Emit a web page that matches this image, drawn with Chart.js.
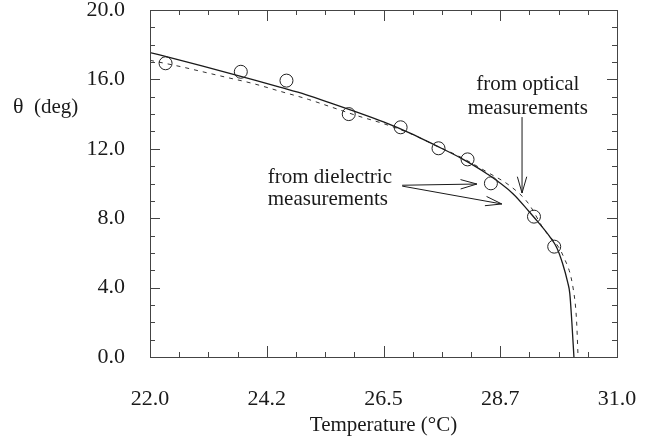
<!DOCTYPE html>
<html>
<head>
<meta charset="utf-8">
<script src="https://cdn.jsdelivr.net/npm/chart.js@4/dist/chart.umd.min.js"></script>
<style>
  html, body { margin: 0; padding: 0; background: #fff; }
  #wrap { width: 652px; height: 444px; }
</style>
</head>
<body>
<div id="wrap"><canvas id="chart"></canvas></div>
<script>
// axis ticks
const xTicks = [22, 24.25, 26.5, 28.75, 31];
const xTickLabels = ['22.0', '24.2', '26.5', '28.7', '31.0'];
const yTicks = [0, 4, 8, 12, 16, 20];
const yTickLabels = ['0.0', '4.0', '8.0', '12.0', '16.0', '20.0'];

// measured points (open circles)
const circleT = [22.30, 23.75, 24.63, 25.83, 26.83, 27.56, 28.12, 28.57, 29.40, 29.79];
const circleTheta = [16.93, 16.44, 15.93, 14.00, 13.24, 12.03, 11.39, 10.01, 8.09, 6.36];

// solid curve (dielectric)
const solidT = [22.0, 22.5, 23.0, 23.5, 24.0, 24.5, 25.0, 25.5, 26.0, 26.5, 27.0, 27.5, 28.0, 28.5, 29.0, 29.3, 29.5, 29.7, 29.84, 29.95, 30.05, 30.09, 30.13, 30.17];
const solidTheta = [17.55, 17.17, 16.78, 16.38, 15.97, 15.55, 15.12, 14.62, 14.1, 13.55, 12.92, 12.2, 11.45, 10.55, 9.4, 8.4, 7.7, 6.95, 6.3, 5.4, 4.3, 3.67, 2.0, 0];

// dashed curve (optical)
const dashT = [22.0, 22.6, 23.0, 23.5, 24.0, 24.5, 25.05, 25.5, 26.0, 26.5, 27.0, 27.5, 28.0, 28.52, 28.94, 29.29, 29.58, 29.97, 30.16, 30.22, 30.25];
const dashTheta = [17.1, 16.73, 16.45, 16.1, 15.75, 15.32, 14.85, 14.4, 13.9, 13.45, 12.9, 12.2, 11.5, 10.62, 9.86, 8.86, 7.41, 5.78, 3.86, 2.13, 0];

const ink = '#1a1a1a';
const serif = '"Liberation Serif", "DejaVu Serif", serif';

const toXY = (xs, ys) => xs.map((x, i) => ({ x: x, y: ys[i] }));

function arrow(ctx, x1, y1, x2, y2) {
    const a = Math.atan2(y2 - y1, x2 - x1);
    const len = 17, spread = 0.28;
    ctx.beginPath();
    ctx.moveTo(x1, y1);
    ctx.lineTo(x2, y2);
    ctx.moveTo(x2 - len * Math.cos(a - spread), y2 - len * Math.sin(a - spread));
    ctx.lineTo(x2, y2);
    ctx.lineTo(x2 - len * Math.cos(a + spread), y2 - len * Math.sin(a + spread));
    ctx.stroke();
}

// frame, inward ticks, annotations
const decor = {
    id: 'decor',
    afterDatasetsDraw(chart) {
        const ctx = chart.ctx;
        const { left, right, top, bottom } = chart.chartArea;
        const xs = chart.scales.x, ys = chart.scales.y;
        ctx.save();
        ctx.strokeStyle = '#444';
        ctx.lineWidth = 1;
        ctx.strokeRect(left + 0.5, top + 0.5, right - left, bottom - top);

        ctx.beginPath();
        const xStep = (xTicks[1] - xTicks[0]) / 4;
        for (let v = xTicks[0], i = 0; v <= xTicks[xTicks.length - 1] + 1e-6; v += xStep, i++) {
            const px = Math.round(xs.getPixelForValue(v)) + 0.5;
            const len = i % 4 === 0 ? 11 : 5;
            ctx.moveTo(px, bottom); ctx.lineTo(px, bottom - len);
            ctx.moveTo(px, top); ctx.lineTo(px, top + len);
        }
        const yStep = (yTicks[1] - yTicks[0]) / 4;
        for (let v = yTicks[0], i = 0; v <= yTicks[yTicks.length - 1] + 1e-6; v += yStep, i++) {
            const py = Math.round(ys.getPixelForValue(v)) + 0.5;
            const len = i % 4 === 0 ? 10 : 5;
            ctx.moveTo(left, py); ctx.lineTo(left + len, py);
            ctx.moveTo(right, py); ctx.lineTo(right - len, py);
        }
        ctx.stroke();

        ctx.strokeStyle = ink;
        ctx.lineWidth = 1;
        const P = (x, y) => [xs.getPixelForValue(x), ys.getPixelForValue(y)];
        // optical arrow
        arrow(ctx, ...P(29.17, 13.83), ...P(29.17, 9.45));
        // dielectric arrows
        arrow(ctx, ...P(26.86, 9.9), ...P(28.30, 9.97));
        arrow(ctx, ...P(26.86, 9.85), ...P(28.78, 8.82));

        ctx.fillStyle = ink;
        ctx.font = '21px ' + serif;
        ctx.textAlign = 'center';
        ctx.textBaseline = 'middle';
        let p = P(29.28, 15.68); ctx.fillText('from optical', p[0], p[1]);
        p = P(29.28, 14.35); ctx.fillText('measurements', p[0], p[1]);
        ctx.textAlign = 'left';
        p = P(24.27, 10.37); ctx.fillText('from dielectric', p[0], p[1]);
        p = P(24.27, 9.05); ctx.fillText('measurements', p[0], p[1]);

        ctx.font = '22px ' + serif;
        ctx.fillText('\u03b8', 13, 107);
        ctx.font = '21px ' + serif;
        ctx.fillText('(deg)', 34, 107);
        ctx.restore();
    }
};

new Chart(document.getElementById('chart'), {
    type: 'scatter',
    data: {
        datasets: [
            {
                label: 'circles',
                data: toXY(circleT, circleTheta),
                pointStyle: 'circle',
                pointRadius: 6.5,
                pointBorderWidth: 1,
                borderColor: '#222',
                backgroundColor: 'rgba(0,0,0,0)',
                showLine: false,
                order: 0
            },
            {
                label: 'dielectric',
                data: toXY(solidT, solidTheta),
                showLine: true,
                pointRadius: 0,
                borderColor: ink,
                borderWidth: 1.3,
                cubicInterpolationMode: 'monotone',
                order: 1
            },
            {
                label: 'optical',
                data: toXY(dashT, dashTheta),
                showLine: true,
                pointRadius: 0,
                borderColor: '#333',
                borderWidth: 1,
                borderDash: [4, 5],
                cubicInterpolationMode: 'monotone',
                order: 2
            }
        ]
    },
    options: {
        responsive: true,
        maintainAspectRatio: false,
        animation: false,
        layout: { padding: { left: 0, right: 35, top: 10, bottom: 0 } },
        plugins: { legend: { display: false }, tooltip: { enabled: false } },
        scales: {
            x: {
                type: 'linear',
                min: xTicks[0],
                max: xTicks[xTicks.length - 1],
                afterBuildTicks: s => { s.ticks = xTicks.map(v => ({ value: v })); },
                afterFit: s => { s.height = 87; s.paddingLeft = 0; s.paddingRight = 0; },
                grid: { display: false, drawTicks: false },
                border: { display: false },
                ticks: {
                    padding: 29,
                    color: ink,
                    font: { family: serif, size: 22 },
                    callback: (v, i) => xTickLabels[i]
                },
                title: {
                    display: true,
                    text: 'Temperature (\u00b0C)',
                    color: ink,
                    font: { family: serif, size: 21 },
                    padding: { top: 6, bottom: 6 }
                }
            },
            y: {
                type: 'linear',
                min: yTicks[0],
                max: yTicks[yTicks.length - 1],
                afterBuildTicks: s => { s.ticks = yTicks.map(v => ({ value: v })); },
                afterFit: s => { s.width = 150; s.paddingTop = 0; s.paddingBottom = 0; },
                grid: { display: false, drawTicks: false },
                border: { display: false },
                ticks: {
                    padding: 25,
                    color: ink,
                    font: { family: serif, size: 22 },
                    callback: (v, i) => yTickLabels[i]
                }
            }
        }
    },
    plugins: [decor]
});
</script>
</body>
</html>
